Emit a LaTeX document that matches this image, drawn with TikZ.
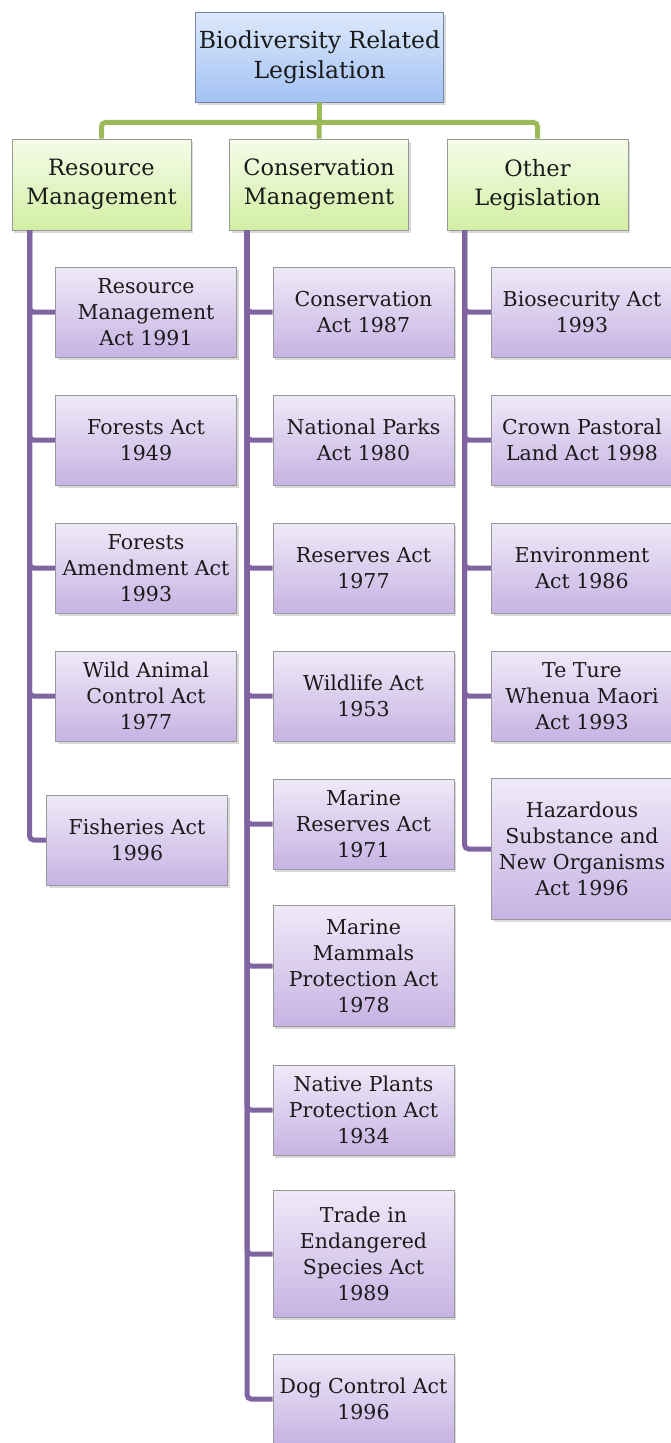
\documentclass[tikz,border=0pt]{standalone}
\usepackage{fontspec}
\setmainfont{DejaVu Serif}
\usetikzlibrary{shadows}

\definecolor{titletop}{HTML}{DDE9FB}
\definecolor{titlebot}{HTML}{A3C2F4}
\definecolor{titleedge}{HTML}{7485A8}
\definecolor{headtop}{HTML}{F5FCE9}
\definecolor{headbot}{HTML}{D2EEA3}
\definecolor{acttop}{HTML}{EFE9F8}
\definecolor{actbot}{HTML}{C7B3E3}
\definecolor{boxedge}{HTML}{999999}
\definecolor{greenline}{HTML}{9BBB59}
\definecolor{purpleline}{HTML}{8064A2}
\definecolor{inktext}{HTML}{1A1A1A}

\tikzset{
  basebox/.style={draw, line width=0.9pt, align=center, text=inktext, inner sep=1pt,
    drop shadow={shadow xshift=2pt, shadow yshift=-2.5pt, opacity=0.3}},
  titlebox/.style={basebox, draw=titleedge, top color=titletop, bottom color=titlebot,
    minimum width=248, minimum height=90, font=\fontsize{23.5}{30}\selectfont},
  headbox/.style={basebox, draw=boxedge, top color=headtop, bottom color=headbot,
    minimum width=179, minimum height=91, font=\fontsize{22.5}{29}\selectfont},
  actbox/.style={basebox, draw=boxedge, top color=acttop, bottom color=actbot,
    minimum width=181, minimum height=90, font=\fontsize{20.5}{26}\selectfont},
  greenlink/.style={draw=greenline, line width=5pt, rounded corners=4},
  purplelink/.style={draw=purpleline, line width=5pt, rounded corners=4},
}

\begin{document}
\begin{tikzpicture}[x=1pt, y=-1pt]
\useasboundingbox (0,0) rectangle (670,1443);

% top of the tree
\node[titlebox] (top) at (319.5,57) {Biodiversity Related\\Legislation};
\node[headbox] (rm) at (101.5,184.5) {Resource\\Management};
\node[headbox] (cm) at (319,184.5) {Conservation\\Management};
\node[headbox, minimum width=181] (ol) at (537.5,184.5) {Other\\Legislation};

% resource management
\node[actbox] (rm1) at (146,312) {Resource\\Management\\Act 1991};
\node[actbox] (rm2) at (146,440) {Forests Act\\1949};
\node[actbox] (rm3) at (146,568) {Forests\\Amendment Act\\1993};
\node[actbox] (rm4) at (146,696) {Wild Animal\\Control Act\\1977};
\node[actbox] (rm5) at (137,840) {Fisheries Act\\1996};

% conservation management
\node[actbox] (cm1) at (363.5,312) {Conservation\\Act 1987};
\node[actbox] (cm2) at (363.5,440) {National Parks\\Act 1980};
\node[actbox] (cm3) at (363.5,568) {Reserves Act\\1977};
\node[actbox] (cm4) at (363.5,696) {Wildlife Act\\1953};
\node[actbox] (cm5) at (363.5,824) {Marine\\Reserves Act\\1971};
\node[actbox, minimum height=121] (cm6) at (363.5,966) {Marine\\Mammals\\Protection Act\\1978};
\node[actbox] (cm7) at (363.5,1110) {Native Plants\\Protection Act\\1934};
\node[actbox, minimum height=127] (cm8) at (363.5,1254) {Trade in\\Endangered\\Species Act\\1989};
\node[actbox] (cm9) at (363.5,1399) {Dog Control Act\\1996};

% other legislation
\node[actbox] (ol1) at (582,312) {Biosecurity Act\\1993};
\node[actbox] (ol2) at (582,440) {Crown Pastoral\\Land Act 1998};
\node[actbox] (ol3) at (582,568) {Environment\\Act 1986};
\node[actbox] (ol4) at (582,696) {Te Ture\\Whenua Maori\\Act 1993};
\node[actbox, minimum height=141] (ol5) at (582,849) {Hazardous\\Substance and\\New Organisms\\Act 1996};

% connectors
\coordinate (bus) at ([yshift=-20]top.south);
\draw[greenlink] (rm.north) |- (bus) -| (ol.north);
\draw[greenlink] (top.south) -- (cm.north);
\foreach \k in {1,...,5}
  \draw[purplelink] ([xshift=18]rm.south west) |- (rm\k.west);
\foreach \k in {1,...,9}
  \draw[purplelink] ([xshift=18]cm.south west) |- (cm\k.west);
\foreach \k in {1,...,5}
  \draw[purplelink] ([xshift=18]ol.south west) |- (ol\k.west);
\end{tikzpicture}
\end{document}
